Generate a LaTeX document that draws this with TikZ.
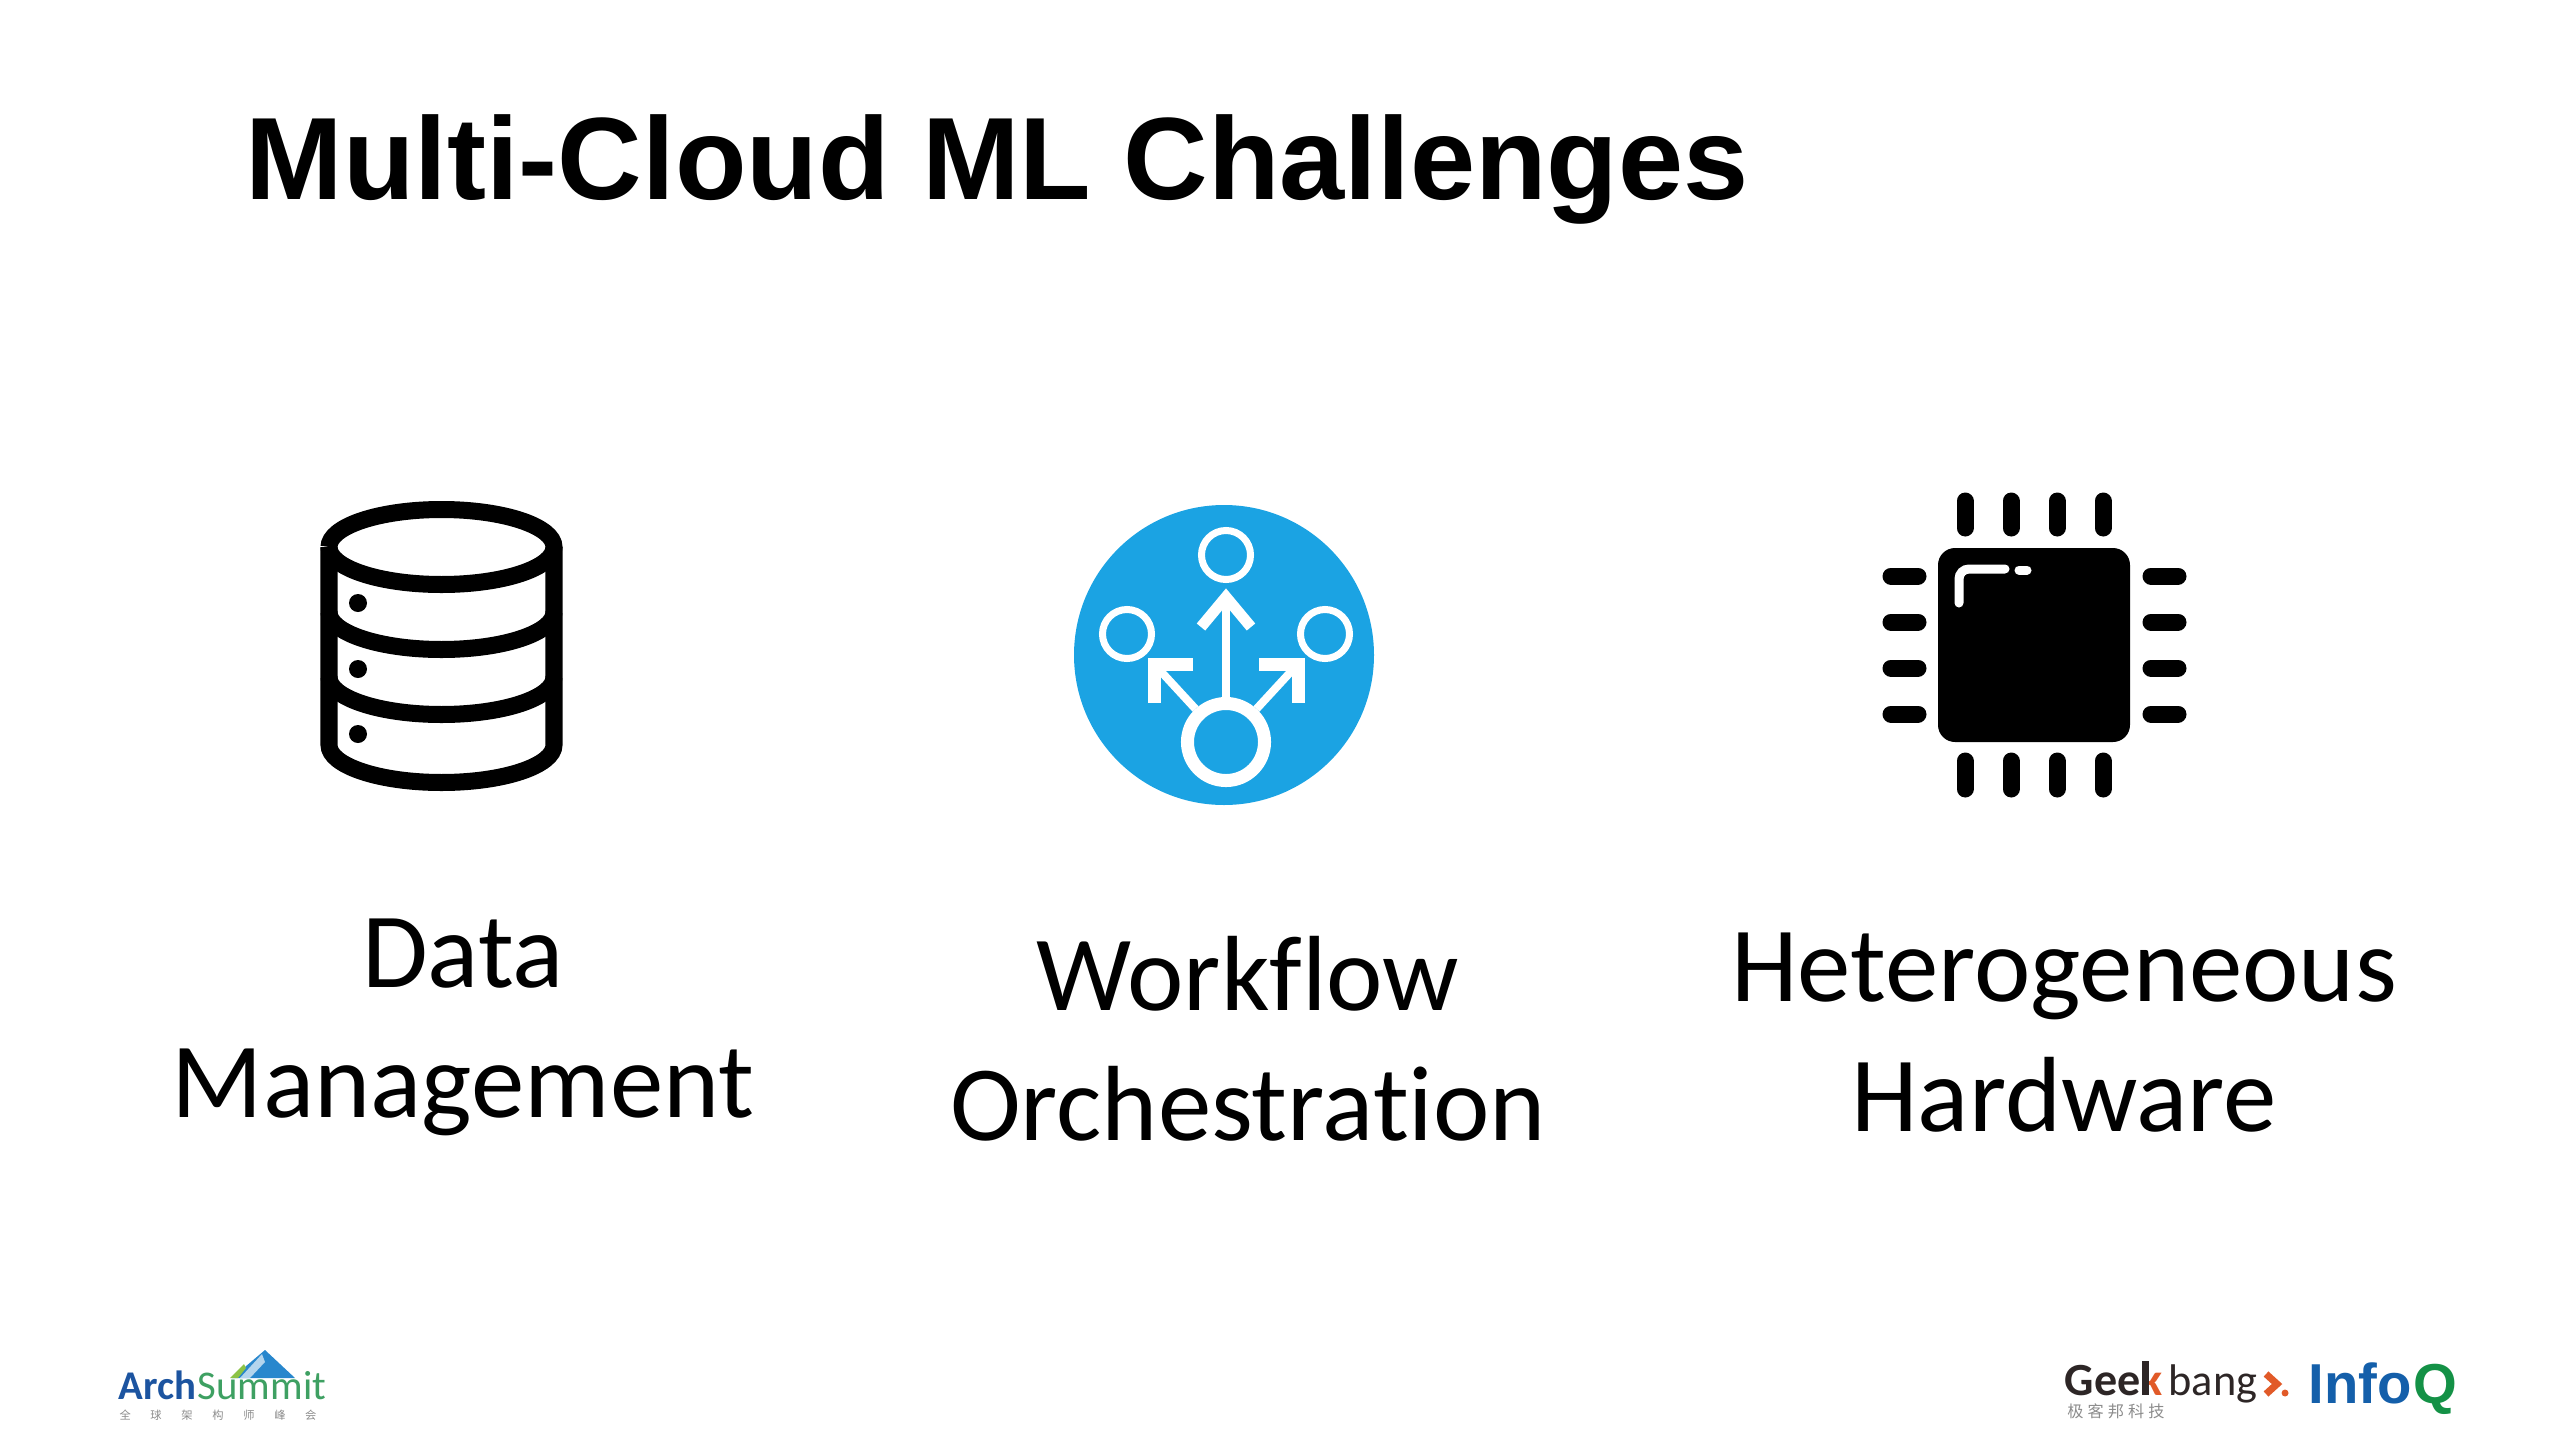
\documentclass[tikz,border=0pt]{standalone}
\usepackage{fontspec}
\setmainfont[RawFeature={-liga}]{Carlito}
\newfontfamily\titlefont{Liberation Sans}
\newfontfamily\cjkfont{Noto Sans CJK SC}
\usetikzlibrary{positioning}
\definecolor{wf-blue}{RGB}{27,163,227}
\definecolor{as-blue}{RGB}{28,84,160}
\definecolor{as-green}{RGB}{62,160,98}
\definecolor{as-sky}{RGB}{40,135,205}
\definecolor{as-lime}{RGB}{140,195,70}
\definecolor{gb-dark}{RGB}{45,38,38}
\definecolor{gb-orange}{RGB}{225,90,40}
\definecolor{iq-blue}{RGB}{20,95,170}
\definecolor{iq-green}{RGB}{20,145,70}

\begin{document}
\begin{tikzpicture}
    [x=0.01cm, y=-0.01cm,
    titletext/.style = {anchor=base west, inner sep=0pt, font=\titlefont\bfseries\fontsize{33.3}{38}\selectfont},
    label/.style = {align=center, inner sep=0pt, font=\fontsize{30.4}{37}\selectfont},
    dbline/.style = {draw=black, line width=0.17cm},
    wfline/.style = {draw=white, line width=0.08cm},
    wfhead/.style = {draw=white, line width=0.1cm, miter limit=10},
    wfnode/.style = {circle, draw=white, line width=0.07cm, minimum size=0.49cm, inner sep=0pt},
    pin/.style = {draw=black, line width=0.17cm, line cap=round},
    logo/.style = {anchor=base west, inner sep=0pt},
    cjk/.style = {inner sep=0pt, text=black!45, font=\cjkfont\fontsize{4.6}{5}\selectfont},
    ]

    \useasboundingbox (0, 0) rectangle (2559, 1439);

    \node[titletext] (title) at (245, 199) {Multi-Cloud ML Challenges};

    \node[label] (data) at (463, 1027) {Data\\Management};
    \node[label] (workflow) at (1248, 1039) {Workflow\\Orchestration};
    \node[label] (hardware) at (2064, 1033) {Heterogeneous\\Hardware};

    \draw[dbline] (329, 547) arc[start angle=180, end angle=-180, x radius=112.5, y radius=37.5];
    \draw[dbline] (329, 547) -- (329, 745) arc[start angle=180, end angle=0, x radius=112.5, y radius=37.5] -- (554, 547);
    \draw[dbline] (329, 612) arc[start angle=180, end angle=0, x radius=112.5, y radius=37.5];
    \draw[dbline] (329, 677) arc[start angle=180, end angle=0, x radius=112.5, y radius=37.5];
    \fill (358, 603) circle[radius=9];
    \fill (358, 669) circle[radius=9];
    \fill (358, 734) circle[radius=9];

    \fill[wf-blue] (1224, 655) circle[radius=150];
    \node[wfnode] (wf-top) at (1226, 555) {};
    \node[wfnode] (wf-left) at (1127, 634) {};
    \node[wfnode] (wf-right) at (1325, 634) {};
    \node[wfnode, line width=0.13cm, minimum size=0.77cm] (wf-src) at (1226, 742) {};
    \coordinate (wf-tip-top) at (1226, 597);
    \coordinate (wf-tip-left) at (1155, 665);
    \coordinate (wf-tip-right) at (1297, 665);
    \draw[wfline] (wf-src) -- (wf-tip-top);
    \draw[wfline] (wf-src) -- (wf-tip-left);
    \draw[wfline] (wf-src) -- (wf-tip-right);
    \draw[wfhead, line width=0.11cm] (1201, 627) -- (1226, 597) -- (1251, 627);
    \draw[wfhead, line width=0.13cm] (1193, 664) -- (1154, 664) -- (1154, 703);
    \draw[wfhead, line width=0.13cm] (1259, 664) -- (1298, 664) -- (1298, 703);

    \fill[rounded corners=0.17cm] (1938, 548) rectangle (2130, 742);
    \draw[pin] (1965, 501) -- (1965, 528) (2011, 501) -- (2011, 528) (2057, 501) -- (2057, 528) (2103, 501) -- (2103, 528);
    \draw[pin] (1965, 761) -- (1965, 789) (2011, 761) -- (2011, 789) (2057, 761) -- (2057, 789) (2103, 761) -- (2103, 789);
    \draw[pin] (1891, 576) -- (1918, 576) (1891, 622) -- (1918, 622) (1891, 668) -- (1918, 668) (1891, 714) -- (1918, 714);
    \draw[pin] (2151, 576) -- (2178, 576) (2151, 622) -- (2178, 622) (2151, 668) -- (2178, 668) (2151, 714) -- (2178, 714);
    \draw[white, line width=0.09cm, line cap=round, rounded corners=0.1cm] (1959, 603) -- (1959, 569) -- (2005, 569);
    \draw[white, line width=0.09cm, line cap=round] (2019, 570) -- (2027, 570);

    \fill[as-sky] (265, 1350) -- (295, 1378) -- (232, 1378) -- cycle;
    \fill[as-sky!35] (265, 1362) -- (250, 1378) -- (240, 1378) -- (262, 1354) -- cycle;
    \fill[as-lime] (230, 1378) -- (244, 1364) -- (246, 1368) -- (238, 1378) -- cycle;
    \node[logo, text=as-blue, font=\bfseries\fontsize{11.6}{12}\selectfont] (arch) at (118, 1399) {Arch};
    \node[logo, text=as-green, font=\fontsize{11.6}{12}\selectfont, anchor=base west] (summit) at (arch.base east) {Summit};
    \node[cjk, anchor=center, font=\cjkfont\fontsize{3.2}{4}\selectfont] (as-cn) at (218, 1415) {全\hspace{1.75em}球\hspace{1.75em}架\hspace{1.75em}构\hspace{1.75em}师\hspace{1.75em}峰\hspace{1.75em}会};

    \node[logo, text=gb-dark, font=\bfseries\fontsize{13.1}{15}\selectfont] (geek) at (2064, 1395) {Gee\textcolor{gb-orange}{k}};
    \draw[gb-dark, line width=0.07cm] (2145, 1361) -- (2145, 1395);
    \node[logo, text=gb-dark, font=\fontsize{12.6}{13}\selectfont] (bang) at (2168, 1395) {bang};
    \draw[gb-orange, line width=0.07cm] (bang.base east) ++(8, -21) -- ++(11, 10) -- ++(-11, 10);
    \fill[gb-orange] (bang.base east) ++(27, -2) circle[radius=3.5];
    \node[cjk, anchor=center] (gb-cn) at (2116, 1411) {极\hspace{0.25em}客\hspace{0.25em}邦\hspace{0.25em}科\hspace{0.25em}技};

    \node[logo, text=iq-blue, font=\titlefont\bfseries\fontsize{16}{17}\selectfont] (info) at (2308, 1403) {Info};
    \node[logo, text=iq-green, font=\titlefont\bfseries\fontsize{16}{17}\selectfont, anchor=base west] (q) at (info.base east) {Q};
\end{tikzpicture}
\end{document}
